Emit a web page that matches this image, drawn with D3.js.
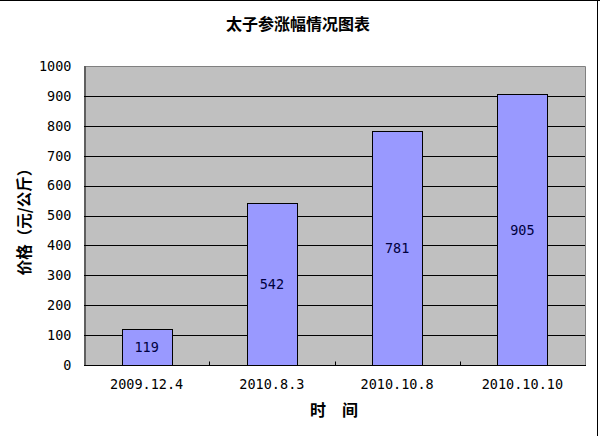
<html>
<head>
<meta charset="UTF-8">
<title>太子参涨幅情况图表</title>
<script src="https://d3js.org/d3.v7.min.js"></script>
<style>
 body { margin: 0; background: #fff; }
 .num { font-family: "DejaVu Sans Mono", monospace; font-size: 13.5px; }
 .cjk { font-family: "Noto Sans CJK SC", sans-serif; font-weight: bold; font-size: 15.5px; }
</style>
</head>
<body>
<svg width="600" height="436"></svg>
<script>
// chart data
var dates = ["2009.12.4", "2010.8.3", "2010.10.8", "2010.10.10"];
var prices = [119, 542, 781, 905];
var yTicks = [0, 100, 200, 300, 400, 500, 600, 700, 800, 900, 1000];

var svg = d3.select("svg");
var plot = {left: 84, top: 66, right: 585, bottom: 365};

// outer frame (top + right visible)
svg.append("line").attr("x1", 0).attr("x2", 600).attr("y1", 0.5).attr("y2", 0.5).style("stroke", "#000");
svg.append("line").attr("x1", 597.5).attr("x2", 597.5).attr("y1", 0).attr("y2", 436).style("stroke", "#000");

var x = d3.scaleBand().domain(dates).range([plot.left, plot.right]).paddingInner(0.6).paddingOuter(0.3);
var xOuter = d3.scaleBand().domain(dates).range([plot.left, plot.right]);
var y = d3.scaleLinear().domain([0, 1000]).range([plot.bottom, plot.top]);

// plot background
svg.append("rect")
  .attr("x", plot.left).attr("y", plot.top)
  .attr("width", plot.right - plot.left).attr("height", plot.bottom - plot.top)
  .style("fill", "#c0c0c0");

// grid lines
svg.append("g").selectAll("line").data(yTicks.filter(function(d) { return d > 0 && d < 1000; }))
  .enter().append("line")
  .attr("x1", plot.left).attr("x2", plot.right)
  .attr("y1", function(d) { return Math.round(y(d)) + 0.5; })
  .attr("y2", function(d) { return Math.round(y(d)) + 0.5; })
  .style("stroke", "#000");

// top and right border
svg.append("path")
  .attr("d", "M" + plot.left + "," + (plot.top + 0.5) + "H" + (plot.right + 0.5) + "V" + plot.bottom)
  .style("fill", "none").style("stroke", "#808080");

// bars
svg.append("g").selectAll("rect").data(prices)
  .enter().append("rect")
  .attr("x", function(d, i) { return Math.round(x(dates[i])) + 0.5; })
  .attr("width", Math.round(x.bandwidth()))
  .attr("y", function(d) { return Math.round(y(d)) + 0.5; })
  .attr("height", function(d) { return Math.round(y(0)) - Math.round(y(d)); })
  .style("fill", "#9999ff").style("stroke", "#000");

// value labels in middle of bars
svg.append("g").selectAll("text").data(prices)
  .enter().append("text").attr("class", "num")
  .attr("x", function(d, i) { return x(dates[i]) + x.bandwidth() / 2; })
  .attr("y", function(d) { return (y(d) + y(0)) / 2; })
  .attr("dy", "0.36em")
  .attr("text-anchor", "middle")
  .style("fill", "#000040")
  .text(function(d) { return d; });

// y axis
var yAxis = d3.axisLeft(y).tickValues(yTicks).tickSize(0).tickPadding(13).tickFormat(d3.format("d"));
var gy = svg.append("g").attr("transform", "translate(" + (plot.left + 0.5) + ",0)").call(yAxis);
gy.select(".domain").style("stroke", "#000");
gy.selectAll("text").attr("class", "num").style("fill", "#000");

// x axis with inner ticks at category borders
var gx = svg.append("g").attr("transform", "translate(0," + (plot.bottom + 0.5) + ")");
gx.append("line").attr("x1", plot.left).attr("x2", plot.right + 1).style("stroke", "#000");
gx.selectAll(".tk").data(dates.slice(1)).enter().append("line")
  .attr("x1", function(d) { return Math.round(xOuter(d)) + 0.5; })
  .attr("x2", function(d) { return Math.round(xOuter(d)) + 0.5; })
  .attr("y1", 0).attr("y2", -4).style("stroke", "#000");
gx.selectAll("text").data(dates).enter().append("text").attr("class", "num")
  .attr("x", function(d) { return xOuter(d) + xOuter.bandwidth() / 2; })
  .attr("y", 23)
  .attr("text-anchor", "middle")
  .text(function(d) { return d; });

// titles
svg.append("text").attr("class", "cjk")
  .attr("x", 298).attr("y", 24).attr("dy", "0.36em")
  .attr("text-anchor", "middle").style("font-size", "16px")
  .text("太子参涨幅情况图表");

svg.append("text").attr("class", "cjk")
  .attr("x", 334).attr("y", 410).attr("dy", "0.36em")
  .attr("text-anchor", "middle").style("font-size", "16px")
  .text("时　间");

svg.append("text").attr("class", "cjk")
  .attr("transform", "translate(24.5,218) rotate(-90)")
  .attr("dy", "0.36em")
  .attr("text-anchor", "middle")
  .text("价格（元/公斤）");
</script>
</body>
</html>
